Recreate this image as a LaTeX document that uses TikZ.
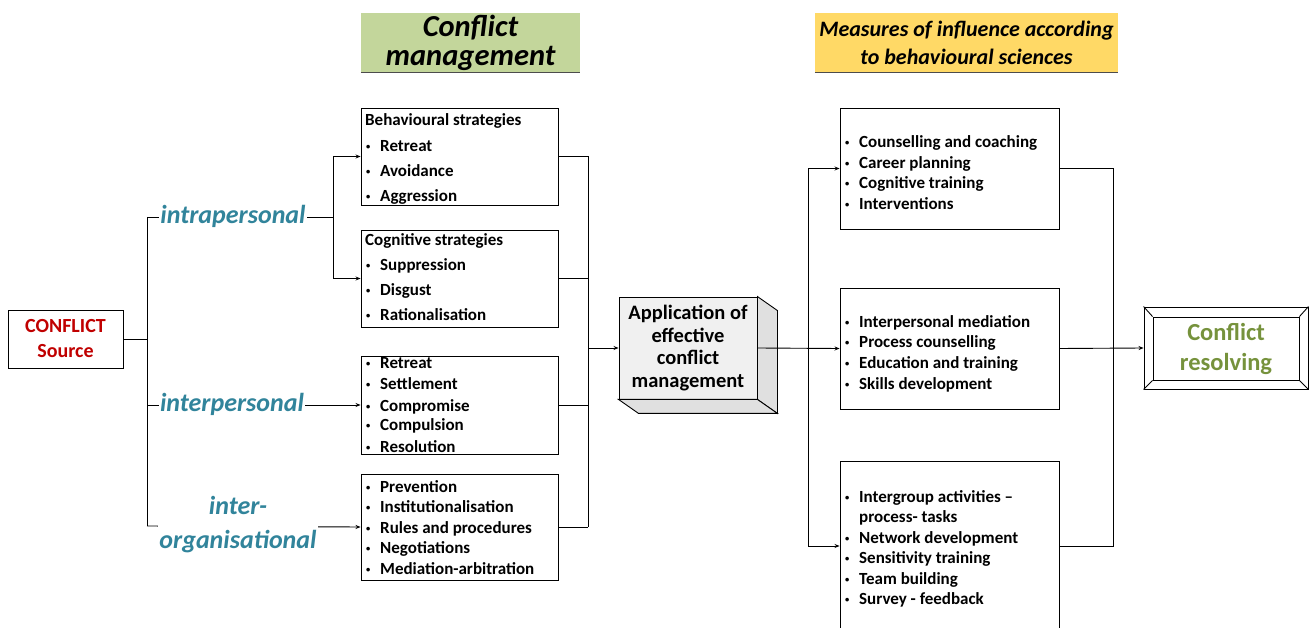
\documentclass[tikz,border=0pt]{standalone}
\usepackage{fontspec}
\setmainfont{Carlito}
\usetikzlibrary{arrows.meta,calc}
\definecolor{srcred}{HTML}{C00000}
\definecolor{kindteal}{HTML}{31849B}
\definecolor{resgreen}{HTML}{76923C}
\definecolor{titlegreen}{HTML}{C3D69B}
\definecolor{titleyellow}{HTML}{FFD966}
\definecolor{facegray}{HTML}{F0F0F0}
\definecolor{sidegray}{HTML}{E0E0E0}
\tikzset{
  box/.style={draw, line width=0.9pt, inner sep=0pt},
  con/.style={line width=0.9pt},
  arr/.style={con, -{Stealth[length=5pt,width=4pt]}},
  item/.style={anchor=base west, inner sep=0pt, font=\bfseries\fontsize{17}{20}\selectfont},
  kind/.style={font=\bfseries\itshape\fontsize{26}{34}\selectfont, text=kindteal,
               fill=white, inner sep=1pt, align=center},
  titlebox/.style={inner sep=0pt, align=center, font=\bfseries\itshape},
}
\newcommand{\bul}{\makebox[14pt][l]{\raisebox{2pt}{\scalebox{0.5}{\textbullet}}}}
\begin{document}
\begin{tikzpicture}[x=1pt,y=-1pt]
\useasboundingbox (0,0) rectangle (1310,628);

% headings
\node[titlebox, fill=titlegreen, minimum width=219, minimum height=59,
      font=\bfseries\itshape\fontsize{30.5}{29}\selectfont] (hcm) at (470.5,42.5) {Conflict\\management};
\draw[gray!60!black, line width=0.8pt] (hcm.south west) -- (hcm.south east);
\node[titlebox, fill=titleyellow, minimum width=303, minimum height=59,
      font=\bfseries\itshape\fontsize{22}{28}\selectfont] (hms) at (966.5,42.5) {Measures of influence according\\to behavioural sciences};
\draw[gray!60!black, line width=0.8pt] (hms.south west) -- (hms.south east);

% source
\node[box, minimum width=115, minimum height=58, align=center, text=srcred,
      font=\bfseries\fontsize{20}{25}\selectfont] (src) at (65.5,339) {CONFLICT\\Source};

% middle column boxes
\node[box, minimum width=197, minimum height=97]  (b1) at (459.5,156.5) {};
\node[box, minimum width=197, minimum height=97]  (b2) at (459.5,278.5) {};
\node[box, minimum width=197, minimum height=98]  (b3) at (459.5,405) {};
\node[box, minimum width=197, minimum height=106] (b4) at (459.5,527) {};

\node[item] (b1h) at (365,126) {Behavioural strategies};
\foreach \y/\t [count=\i] in {152/Retreat,177/Avoidance,202/Aggression}
  \node[item] (b1i\i) at (366,\y) {\bul\t};
\node[item] (b2h) at (365,246) {Cognitive strategies};
\foreach \y/\t [count=\i] in {271/Suppression,296/Disgust,321/Rationalisation}
  \node[item] (b2i\i) at (366,\y) {\bul\t};
\foreach \y/\t [count=\i] in {369/Retreat,390/Settlement,411/Compromise,431/Compulsion,452/Resolution}
  \node[item] (b3i\i) at (366,\y) {\bul\t};
\foreach \y/\t [count=\i] in {492/Prevention,512/Institutionalisation,533/Rules and procedures,553/Negotiations,574/Mediation-arbitration}
  \node[item] (b4i\i) at (366,\y) {\bul\t};

% left connectors
\coordinate (tL) at (147,217);
\coordinate (bL) at (147,526);
\coordinate (jIntra) at (333,217);
\draw[con] (src.east) -- (src.east -| tL);
\draw[con] (tL) -- (bL);
\draw[con] (tL) -- (jIntra);
\draw[arr] (jIntra) |- (b1.west);
\draw[arr] (jIntra) |- (b2.west);
\draw[arr] (tL |- b3.west) -- (b3.west);
\draw[arr] (bL) -- (b4.west);
\node[kind] (intra) at (233,216) {intrapersonal};
\node[kind] (inter) at (232,404) {interpersonal};
\node[kind] (interorg) at (238,525) {inter-\\organisational};

% application box (3D)
\node[box, fill=facegray, minimum width=138, minimum height=102, align=center,
      font=\bfseries\fontsize{20.5}{22.5}\selectfont] (app) at (688,348)
      {Application of\\effective\\conflict\\management};
\draw[line width=0.9pt, fill=sidegray] (app.north east) -- ++(20,14) -- ($(app.south east)+(20,14)$) -- (app.south east) -- cycle;
\draw[line width=0.9pt, fill=sidegray] (app.south west) -- ++(20,14) -- ($(app.south east)+(20,14)$) -- (app.south east) -- cycle;

% middle to application
\coordinate (m1) at (588,156.5);
\coordinate (m4) at (588,527);
\draw[con] (m1) -- (m4);
\foreach \b in {b1,b2,b3,b4} \draw[con] (\b.east) -- (\b.east -| m1);
\draw[arr] (m1 |- app.west) -- (app.west);

% right column boxes
\node[box, minimum width=219, minimum height=121] (rA) at (949.5,168.5) {};
\node[box, minimum width=219, minimum height=121] (rB) at (949.5,348.5) {};
\node[box, minimum width=219, minimum height=170] (rC) at (949.5,546) {};
\foreach \y/\t [count=\i] in {148/Counselling and coaching,169/Career planning,189/Cognitive training,210/Interventions}
  \node[item] (rAi\i) at (845,\y) {\bul\t};
\foreach \y/\t [count=\i] in {328/Interpersonal mediation,348/Process counselling,369/Education and training,389/Skills development}
  \node[item] (rBi\i) at (845,\y) {\bul\t};
\node[item] (rCi1) at (845,502) {\bul Intergroup activities –};
\node[item] (rCi1b) at (859,522) {process- tasks};
\foreach \y/\t [count=\i from 2] in {543/Network development,563/Sensitivity training,584/Team building,604/Survey - feedback}
  \node[item] (rCi\i) at (845,\y) {\bul\t};

% application to right column
\coordinate (r1) at (808,168.5);
\coordinate (r3) at (808,546);
\draw[con] (r1) -- (r3);
\draw[arr] (app.east) -- (rB.west);
\draw[arr] (r1) -- (rA.west);
\draw[arr] (r3) -- (rC.west);

% result box
\node[box, minimum width=164, minimum height=82] (cr) at (1226,348) {};
\node[box, minimum width=146, minimum height=63, align=center, text=resgreen,
      font=\bfseries\fontsize{24.5}{30}\selectfont] (cri) at (1226,348.5) {Conflict\\resolving};
\foreach \c in {north west,north east,south west,south east}
  \draw[line width=0.9pt] (cr.\c) -- (cri.\c);

% right column to result
\coordinate (q1) at (1113,168.5);
\coordinate (q3) at (1113,546);
\draw[con] (rA.east) -- (q1) -- (q3) -- (rC.east);
\draw[arr] (rB.east) -- (cr.west);
\end{tikzpicture}
\end{document}
